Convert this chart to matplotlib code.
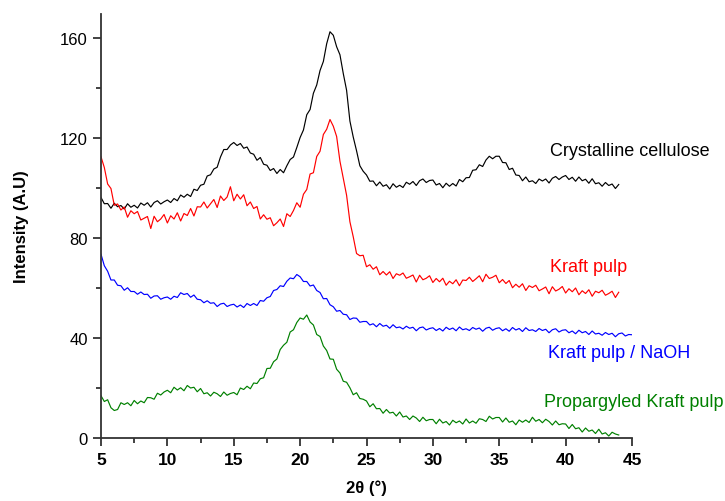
import numpy as np
import matplotlib
matplotlib.use("Agg")
import matplotlib.pyplot as plt
from matplotlib.ticker import MultipleLocator

plt.rcParams["font.family"] = ["Liberation Sans", "DejaVu Sans"]

# XRD patterns, 0.25 deg steps (one row per degree)
crystalline = [
    96.2, 93.7, 93.8, 91.9,      # 5
    93.9, 92.5, 93.0, 91.6,      # 6
    93.7, 92.3, 93.1, 92.0,      # 7
    94.0, 93.1, 94.1, 92.4,      # 8
    94.2, 94.9, 93.6, 94.5,      # 9
    95.2, 94.2, 95.8, 94.9,      # 10
    97.2, 96.3, 97.5, 96.6,      # 11
    99.5, 99.0, 101.1, 101.5,    # 12
    104.8, 105.3, 107.6, 108.3,  # 13
    112.4, 115.4, 115.4, 117.2,  # 14
    118.2, 117.0, 117.8, 115.9,  # 15
    116.4, 114.0, 113.5, 111.1,  # 16
    112.2, 109.5, 109.1, 107.0,  # 17
    107.8, 105.8, 107.4, 106.1,  # 18
    108.9, 111.4, 112.4, 116.2,  # 19
    120.2, 123.2, 129.3, 131.4,  # 20
    137.9, 141.2, 147.0, 150.6,  # 21
    157.7, 162.5, 161.1, 156.5,  # 22
    153.3, 145.8, 139.1, 126.8,  # 23
    120.4, 114.9, 108.9, 106.7,  # 24
    105.2, 102.7, 102.8, 100.9,  # 25
    102.4, 100.7, 101.3, 99.6,   # 26
    101.7, 100.3, 101.1, 100.2,  # 27
    102.3, 101.5, 102.6, 101.0,  # 28
    102.9, 103.6, 102.2, 103.0,  # 29
    103.2, 101.2, 101.8, 100.1,  # 30
    101.9, 100.7, 101.8, 100.8,  # 31
    103.4, 102.5, 104.1, 104.2,  # 32
    107.1, 107.3, 109.3, 108.6,  # 33
    111.2, 112.7, 111.7, 112.7,  # 34
    112.7, 110.2, 110.1, 107.4,  # 35
    107.9, 105.2, 105.0, 102.9,  # 36
    104.4, 102.5, 102.9, 101.8,  # 37
    103.6, 102.8, 103.6, 102.0,  # 38
    103.9, 104.6, 103.4, 104.4,  # 39
    105.0, 103.4, 104.3, 102.7,  # 40
    104.4, 102.9, 103.5, 101.9,  # 41
    103.7, 101.7, 102.1, 100.7,  # 42
    102.2, 101.0, 101.6, 99.8,   # 43
    101.4,                       # 44
]

kraft = [
    112.5, 108.2, 101.6, 99.8,   # 5
    93.1, 93.6, 91.2, 92.4,      # 6
    88.3, 90.9, 89.7, 90.6,      # 7
    87.2, 87.9, 88.6, 83.8,      # 8
    88.7, 86.5, 87.6, 89.4,      # 9
    86.0, 88.9, 87.6, 90.1,      # 10
    86.8, 89.8, 89.0, 91.8,      # 11
    88.8, 92.5, 92.4, 94.4,      # 12
    92.0, 93.7, 95.4, 92.2,      # 13
    96.8, 95.0, 96.4, 100.5,     # 14
    94.9, 97.5, 95.6, 97.3,      # 15
    92.9, 94.4, 91.8, 92.6,      # 16
    87.6, 89.3, 87.5, 88.1,      # 17
    84.9, 86.1, 87.6, 84.6,      # 18
    89.7, 88.6, 91.0, 94.1,      # 19
    92.3, 97.5, 99.4, 105.6,     # 20
    106.1, 112.6, 114.7, 121.4,  # 21
    123.5, 127.4, 124.7, 120.6,  # 22
    110.7, 103.9, 97.1, 86.5,    # 23
    80.5, 73.8, 72.9, 73.1,      # 24
    68.5, 69.3, 67.5, 68.5,      # 25
    65.3, 66.6, 65.2, 66.5,      # 26
    63.8, 65.7, 65.1, 66.0,      # 27
    63.9, 64.5, 65.2, 62.4,      # 28
    65.1, 63.3, 63.9, 64.9,      # 29
    62.2, 63.8, 62.5, 63.9,      # 30
    61.1, 62.7, 61.7, 63.3,      # 31
    60.9, 63.2, 63.0, 64.3,      # 32
    62.6, 63.7, 64.9, 62.5,      # 33
    65.5, 63.8, 64.3, 65.1,      # 34
    62.1, 63.4, 61.8, 63.0,      # 35
    60.1, 61.5, 60.3, 61.7,      # 36
    59.0, 60.9, 60.2, 61.1,      # 37
    58.9, 59.6, 60.4, 57.7,      # 38
    60.5, 58.8, 59.5, 60.6,      # 39
    58.0, 59.7, 58.5, 60.0,      # 40
    57.3, 58.9, 57.8, 59.3,      # 41
    56.7, 58.7, 58.1, 59.1,      # 42
    57.1, 57.8, 58.7, 56.2,      # 43
    58.3,                        # 44
]

kraft_naoh = [
    73.5, 68.9, 66.7, 63.2,      # 5
    63.2, 61.1, 60.9, 59.1,      # 6
    60.1, 58.6, 58.6, 57.5,      # 7
    58.4, 57.4, 57.5, 55.9,      # 8
    56.8, 56.9, 55.5, 56.1,      # 9
    56.4, 55.5, 56.7, 56.2,      # 10
    58.1, 57.4, 57.8, 56.3,      # 11
    57.2, 55.5, 55.3, 54.1,      # 12
    54.9, 53.9, 54.1, 52.6,      # 13
    53.6, 53.9, 52.6, 53.2,      # 14
    53.5, 52.4, 53.2, 52.2,      # 15
    53.8, 53.0, 53.8, 53.0,      # 16
    55.0, 54.7, 56.1, 56.6,      # 17
    59.0, 59.4, 60.9, 60.6,      # 18
    62.7, 64.0, 63.7, 65.4,      # 19
    64.5, 62.6, 62.6, 60.8,      # 20
    61.2, 59.0, 58.2, 55.7,      # 21
    55.8, 53.3, 52.5, 50.7,      # 22
    51.0, 49.5, 49.3, 47.4,      # 23
    48.0, 47.9, 46.3, 46.6,      # 24
    46.6, 45.2, 45.7, 44.5,      # 25
    45.8, 44.7, 45.1, 43.9,      # 26
    45.3, 44.1, 44.4, 43.6,      # 27
    44.7, 43.9, 44.3, 42.9,      # 28
    44.1, 44.4, 43.2, 43.8,      # 29
    44.1, 43.0, 43.8, 42.8,      # 30
    44.3, 43.4, 44.0, 42.9,      # 31
    44.4, 43.3, 43.7, 43.0,      # 32
    44.2, 43.5, 44.0, 42.7,      # 33
    43.9, 44.3, 43.1, 43.8,      # 34
    44.1, 42.9, 43.7, 42.7,      # 35
    44.2, 43.2, 43.8, 42.6,      # 36
    44.1, 43.0, 43.3, 42.6,      # 37
    43.8, 43.0, 43.5, 42.1,      # 38
    43.3, 43.7, 42.4, 43.1,      # 39
    43.3, 42.1, 42.8, 41.7,      # 40
    43.1, 42.1, 42.6, 41.4,      # 41
    42.8, 41.6, 41.9, 41.1,      # 42
    42.2, 41.4, 41.9, 40.5,      # 43
    41.7, 42.0, 40.8, 41.4,      # 44
    41.3,                        # 45
]

propargyled = [
    16.9, 14.6, 15.3, 12.1,      # 5
    11.0, 11.4, 14.1, 13.4,      # 6
    14.1, 12.9, 15.0, 13.7,      # 7
    14.8, 14.1, 16.2, 16.1,      # 8
    15.5, 17.9, 17.2, 18.4,      # 9
    19.1, 18.1, 20.3, 19.2,      # 10
    20.1, 18.9, 21.0, 20.0,      # 11
    20.3, 18.5, 19.8, 17.7,      # 12
    18.1, 16.8, 18.3, 17.7,      # 13
    16.6, 18.4, 17.1, 17.8,      # 14
    18.2, 17.3, 20.0, 19.4,      # 15
    20.7, 19.7, 22.0, 21.8,      # 16
    23.7, 24.1, 27.8, 27.9,      # 17
    30.5, 31.6, 35.4, 37.1,      # 18
    38.3, 42.4, 43.3, 46.2,      # 19
    48.0, 47.5, 49.2, 46.4,      # 20
    45.2, 41.4, 40.6, 36.8,      # 21
    35.0, 31.6, 31.5, 27.5,      # 22
    26.0, 22.7, 22.3, 20.1,      # 23
    17.3, 18.1, 15.8, 15.5,      # 24
    14.8, 12.5, 13.7, 11.7,      # 25
    11.8, 9.9, 11.4, 10.0,       # 26
    10.3, 8.8, 10.4, 8.4,        # 27
    8.8, 7.4, 8.8, 8.0,          # 28
    6.6, 8.3, 6.9, 7.4,          # 29
    7.4, 5.7, 7.5, 6.0,          # 30
    6.6, 5.2, 7.1, 6.1,          # 31
    6.8, 5.6, 7.6, 6.0,          # 32
    6.8, 5.9, 7.7, 7.4,          # 33
    6.6, 8.7, 7.6, 8.2,          # 34
    8.2, 6.4, 8.0, 6.3,          # 35
    6.8, 5.3, 7.2, 6.3,          # 36
    7.2, 6.2, 8.3, 6.7,          # 37
    7.4, 6.1, 7.5, 6.6,          # 38
    5.2, 6.8, 5.3, 5.7,          # 39
    5.6, 3.8, 5.4, 3.7,          # 40
    4.1, 2.4, 4.0, 2.7,          # 41
    3.2, 1.8, 3.5, 1.6,          # 42
    2.1, 0.8, 2.3, 1.6,          # 43
    1.2,                         # 44
]

step = 0.25
x44 = 5 + step * np.arange(len(crystalline))
x45 = 5 + step * np.arange(len(kraft_naoh))

series = [
    (x44, crystalline, "black", "Crystalline cellulose", 38.8, 114.8),
    (x44, kraft, "red", "Kraft pulp", 38.8, 68.4),
    (x45, kraft_naoh, "blue", "Kraft pulp / NaOH", 38.7, 34.0),
    (x44, propargyled, "green", "Propargyled Kraft pulp", 38.4, 14.6),
]

fig = plt.figure(figsize=(7.25, 5.02), dpi=100)
ax = fig.add_axes([101 / 725, 1 - 439 / 502, 531 / 725, 424 / 502])

for xs, ys, col, label, tx, ty in series:
    ax.plot(xs, ys, color=col, lw=0.85)
    ax.text(tx, ty, label, color=col, fontsize=13, va="center", ha="left")

ax.set_xlim(5, 45)
ax.set_ylim(0, 169.6)
ax.xaxis.set_major_locator(MultipleLocator(5))
ax.xaxis.set_minor_locator(MultipleLocator(2.5))
ax.yaxis.set_major_locator(MultipleLocator(40))
ax.yaxis.set_minor_locator(MultipleLocator(20))

for s in ["top", "right"]:
    ax.spines[s].set_visible(False)
for s in ["left", "bottom"]:
    ax.spines[s].set_color("#333333")
    ax.spines[s].set_linewidth(1.3)

ax.tick_params(which="major", direction="out", length=6, width=1.3, color="#333333", labelsize=12)
ax.tick_params(which="minor", direction="out", length=3.5, width=1.3, color="#333333")
ax.tick_params(axis="x", labelsize=12.5, pad=4)
for lbl in ax.get_xticklabels():
    lbl.set_fontweight("bold")

ax.set_xlabel("2θ (°)", fontsize=12, fontweight="bold", labelpad=9)
ax.set_ylabel("Intensity (A.U)", fontsize=12, fontweight="bold", labelpad=22)

fig.savefig("out.png", dpi=100)
